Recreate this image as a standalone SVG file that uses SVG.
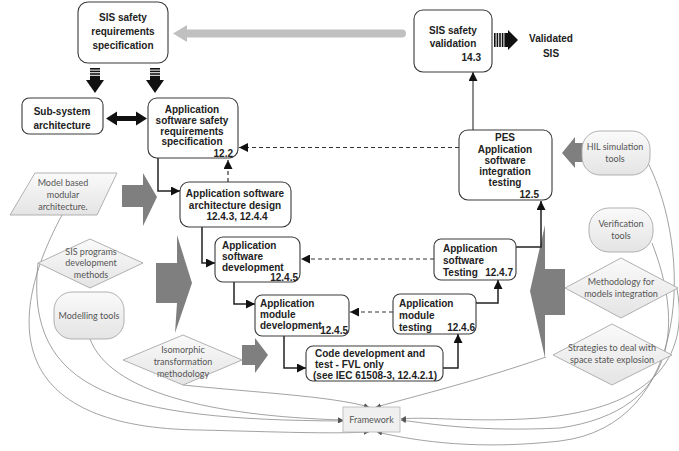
<svg xmlns="http://www.w3.org/2000/svg" width="679" height="451" viewBox="0 0 679 451">
<style>
.box{fill:#fff;stroke:#3a3a3a;stroke-width:1.1}
.t{font-family:"Liberation Sans",Arial,sans-serif;font-weight:bold;font-size:10px;fill:#222}
.tc{text-anchor:middle}
.te{text-anchor:end}
.g{fill:url(#gg);stroke:#a8a8a8;stroke-width:0.9}
.gt{font-family:Lato,"Liberation Sans",sans-serif;font-size:9px;fill:#555;text-anchor:middle}
.con{fill:none;stroke:#222;stroke-width:1.5}
.dash{fill:none;stroke:#333;stroke-width:1.2;stroke-dasharray:4 3}
.fw{fill:none;stroke:#8a8a8a;stroke-width:0.8}
.big{fill:#7f7f7f}
</style>
<defs>
<linearGradient id="gg" x1="0" y1="0" x2="0" y2="1">
<stop offset="0" stop-color="#fafafa"/>
<stop offset="1" stop-color="#e4e4e4"/>
</linearGradient>
<marker id="arr" viewBox="0 0 10 10" refX="10" refY="5" markerWidth="9" markerHeight="9" markerUnits="userSpaceOnUse" orient="auto">
<path d="M0,0 L10,5 L0,10 Z" fill="#111"/>
</marker>
<marker id="sa" viewBox="0 0 10 10" refX="10" refY="5" markerWidth="5" markerHeight="5" markerUnits="userSpaceOnUse" orient="auto">
<path d="M0,0 L10,5 L0,10 Z" fill="#555"/>
</marker>
</defs>

<!-- big gray arrows -->
<g id="gray-arrows">
<rect x="184" y="29.5" width="222" height="8" rx="4" fill="#c0c0c0"/>
<polygon points="173,33.5 187,25 187,42" fill="#c0c0c0"/>
<polygon class="big" points="122,185 143,185 143,173 157,197 143,226 143,207 122,207"/>
<polygon class="big" points="156,263 177,263 177,235 192,283 175,333 177,303 156,303"/>
<polygon class="big" points="242,345 255,345 255,338 268,355 255,373 255,365 242,365"/>
<polygon class="big" points="583,143 575,143 575,137 562,153 575,168 575,162 583,162"/>
<polygon class="big" points="545,225 545,269 565,269 565,315 545,315 545,358 530,291"/>
</g>

<!-- framework connectors -->
<g id="framework-links">
<path class="fw" d="M183,385 C260,393 330,396 369,407" marker-end="url(#sa)"/>
<path class="fw" d="M90,339 C110,392 210,416 343,420" marker-end="url(#sa)"/>
<path class="fw" d="M38,263 C24,392 120,420 343,421" marker-end="url(#sa)"/>
<path class="fw" d="M62,215 C0,330 15,428 200,430 C280,432 330,434 369,432" marker-end="url(#sa)"/>
<path class="fw" d="M546,357 C480,380 420,395 376,407" marker-end="url(#sa)"/>
<path class="fw" d="M648,163 C692,250 692,425 560,441 C480,450 420,442 377,432" marker-end="url(#sa)"/>
<path class="fw" d="M652,243 C682,320 682,410 560,428 C480,432 430,424 401,420" marker-end="url(#sa)"/>
<path class="fw" d="M677,289 C690,360 650,408 540,418 C470,423 430,416 401,419" marker-end="url(#sa)"/>
</g>

<!-- connectors -->
<g id="connectors">
<line x1="473" y1="130" x2="473" y2="72" stroke="#666" stroke-width="1.5" marker-end="url(#arr)"/>
<polyline class="con" points="158,158 158,191 180,191" marker-end="url(#arr)"/>
<line class="dash" x1="228" y1="182" x2="228" y2="160" marker-end="url(#arr)"/>
<line class="dash" x1="459" y1="147.5" x2="239" y2="147.5" marker-end="url(#arr)"/>
<polyline class="con" points="202,227 202,263 215,263" marker-end="url(#arr)"/>
<line class="dash" x1="434" y1="259" x2="301" y2="259" marker-end="url(#arr)"/>
<polyline class="con" points="234,282 234,304 255,304" marker-end="url(#arr)"/>
<line class="dash" x1="393" y1="312" x2="350" y2="312" marker-end="url(#arr)"/>
<polyline class="con" points="284,336 284,368 306,368" marker-end="url(#arr)"/>
<polyline class="con" points="443,368 458,368 458,334" marker-end="url(#arr)"/>
<polyline class="con" points="476,303 498,303 498,280" marker-end="url(#arr)"/>
<polyline class="con" points="516,247 541,247 541,201" marker-end="url(#arr)"/>
<!-- striped down arrows -->
<g fill="#111">
<rect x="90" y="68" width="10" height="1.6"/><rect x="90" y="70.6" width="10" height="1.6"/><rect x="90" y="73.2" width="10" height="1.6"/><rect x="90" y="75.8" width="10" height="4.4"/>
<polygon points="86,80 104,80 95,93"/>
<rect x="150" y="68" width="10" height="1.6"/><rect x="150" y="70.6" width="10" height="1.6"/><rect x="150" y="73.2" width="10" height="1.6"/><rect x="150" y="75.8" width="10" height="4.4"/>
<polygon points="146,80 164,80 155,93"/>
<!-- striped right arrow -->
<rect x="494" y="33" width="1.6" height="14"/><rect x="496.6" y="33" width="1.6" height="14"/><rect x="499.2" y="33" width="1.6" height="14"/><rect x="501.8" y="33" width="1.6" height="14"/><rect x="504.4" y="33" width="3.8" height="14"/>
<polygon points="508,30 518,40 508,50"/>
<!-- double arrow -->
<polygon points="106,118.5 117,111.5 117,116 136,116 136,111.5 147,118.5 136,125.5 136,121 117,121 117,125.5"/>
</g>
</g>

<!-- main nodes -->
<g id="sis-srs">
<rect class="box" x="78" y="2" width="90" height="61" rx="10"/>
<text class="t tc" x="123" y="21" font-size="10.8">SIS safety</text>
<text class="t tc" x="123" y="35" font-size="10.8">requirements</text>
<text class="t tc" x="123" y="49" font-size="10.8">specification</text>
</g>
<g id="sis-validation">
<rect class="box" x="414" y="10" width="78" height="62" rx="9"/>
<text class="t tc" x="453" y="34" font-size="10.8">SIS safety</text>
<text class="t tc" x="453" y="47" font-size="10.8">validation</text>
<text class="t te" x="481" y="61" font-size="10.8">14.3</text>
</g>
<g id="validated-sis">
<text class="t tc" x="551" y="42" font-size="12.5">Validated</text>
<text class="t tc" x="551" y="57" font-size="12.5">SIS</text>
</g>
<g id="subsystem">
<rect class="box" x="22" y="98" width="81" height="36" rx="7"/>
<text class="t tc" x="62" y="115">Sub-system</text>
<text class="t tc" x="62" y="129">architecture</text>
</g>
<g id="app-srs">
<rect class="box" x="148" y="98" width="90" height="60" rx="9"/>
<text class="t tc" x="192" y="113">Application</text>
<text class="t tc" x="192" y="124">software safety</text>
<text class="t tc" x="192" y="134.5">requirements</text>
<text class="t tc" x="192" y="145">specification</text>
<text class="t te" x="233" y="156.5">12.2</text>
</g>
<g id="arch-design">
<rect class="box" x="180" y="182" width="111" height="45" rx="9"/>
<text class="t tc" x="235" y="197">Application software</text>
<text class="t tc" x="235" y="208.5">architecture design</text>
<text class="t tc" x="237" y="220">12.4.3, 12.4.4</text>
</g>
<g id="sw-dev">
<rect class="box" x="215" y="237" width="85" height="45" rx="8"/>
<text class="t" x="222" y="249">Application</text>
<text class="t" x="222" y="260">software</text>
<text class="t" x="222" y="271">development</text>
<text class="t te" x="298" y="281">12.4.5</text>
</g>
<g id="module-dev">
<rect class="box" x="255" y="295" width="94" height="41" rx="7"/>
<text class="t" x="260" y="307">Application</text>
<text class="t" x="260" y="318">module</text>
<text class="t" x="260" y="329">development</text>
<text class="t te" x="348" y="333.5">12.4.5</text>
</g>
<g id="code-dev">
<rect class="box" x="306" y="346" width="137" height="35" rx="7"/>
<text class="t" x="315" y="357">Code development and</text>
<text class="t" x="315" y="368">test - FVL only</text>
<text class="t" x="313" y="379">(see IEC 61508-3, 12.4.2.1)</text>
</g>
<g id="module-testing">
<rect class="box" x="393" y="294" width="83" height="40" rx="7"/>
<text class="t" x="399" y="307">Application</text>
<text class="t" x="399" y="319">module</text>
<text class="t" x="399" y="331">testing</text>
<text class="t te" x="475" y="331">12.4.6</text>
</g>
<g id="sw-testing">
<rect class="box" x="434" y="239" width="82" height="41" rx="7"/>
<text class="t" x="443" y="252">Application</text>
<text class="t" x="443" y="264">software</text>
<text class="t" x="443" y="276">Testing</text>
<text class="t te" x="513" y="276">12.4.7</text>
</g>
<g id="pes-integration">
<rect class="box" x="459" y="130" width="93" height="70" rx="9"/>
<text class="t tc" x="505" y="141">PES</text>
<text class="t tc" x="505" y="152.5">Application</text>
<text class="t tc" x="505" y="164">software</text>
<text class="t tc" x="505" y="175">integration</text>
<text class="t tc" x="505" y="186">testing</text>
<text class="t te" x="539" y="198">12.5</text>
</g>

<!-- method/tool nodes -->
<g id="model-based">
<polygon class="g" points="35,173 117,173 97,215 10,215"/>
<text class="gt" x="63" y="186">Model based</text>
<text class="gt" x="63" y="198">modular</text>
<text class="gt" x="63" y="209.5">architecture.</text>
</g>
<g id="sis-programs">
<polygon class="g" points="38,263 90,239 143,263 90,288"/>
<text class="gt" x="91" y="255">SIS programs</text>
<text class="gt" x="91" y="266">development</text>
<text class="gt" x="91" y="277.5">methods</text>
</g>
<g id="modelling-tools">
<rect class="g" x="54" y="292" width="70" height="47" rx="18"/>
<text class="gt" x="89" y="319">Modelling tools</text>
</g>
<g id="isomorphic">
<polygon class="g" points="123,360 183,335 242,360 183,385"/>
<text class="gt" x="183" y="353">Isomorphic</text>
<text class="gt" x="183" y="365">transformation</text>
<text class="gt" x="183" y="376.5">methodology</text>
</g>
<g id="hil">
<rect class="g" x="582" y="131" width="68" height="44" rx="18"/>
<text class="gt" x="615" y="150">HIL simulation</text>
<text class="gt" x="615" y="162">tools</text>
</g>
<g id="verification">
<rect class="g" x="589" y="208" width="64" height="44" rx="20"/>
<text class="gt" x="621" y="227">Verification</text>
<text class="gt" x="621" y="239">tools</text>
</g>
<g id="methodology">
<polygon class="g" points="565,288 621,258 678,288 621,318"/>
<text class="gt" x="621" y="285">Methodology for</text>
<text class="gt" x="621" y="297">models integration</text>
</g>
<g id="strategies">
<polygon class="g" points="553,355 612,324 672,355 612,385"/>
<text class="gt" x="612" y="351">Strategies to deal with</text>
<text class="gt" x="612" y="363">space state explosion</text>
</g>
<g id="framework">
<rect x="343" y="407" width="57" height="25" fill="#f0f0f0" stroke="#bbb" stroke-width="0.9"/>
<text class="gt" x="371.5" y="423" font-size="8.5">Framework</text>
</g>
</svg>
